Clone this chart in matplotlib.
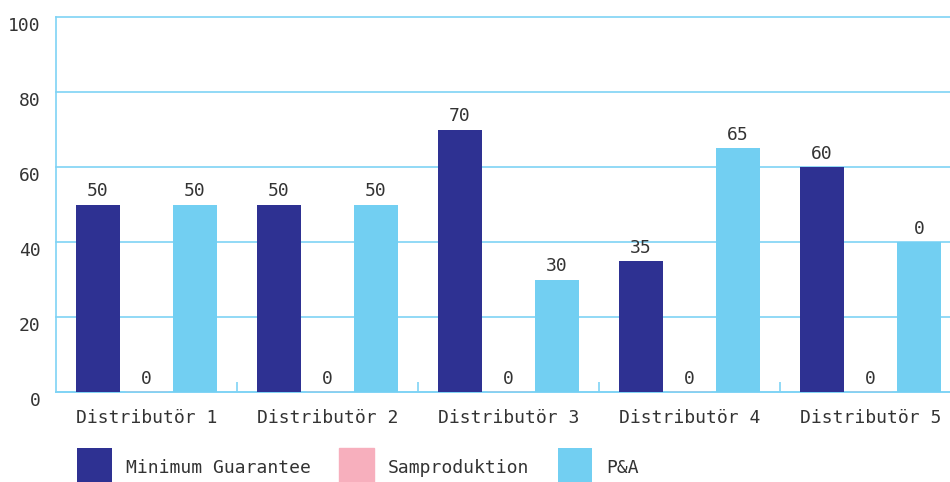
import matplotlib
matplotlib.use("Agg")
import matplotlib.pyplot as plt
import numpy as np

categories = ["Distributör 1", "Distributör 2", "Distributör 3", "Distributör 4", "Distributör 5"]
series_names = ["Minimum Guarantee", "Samproduktion", "P&A"]
mg_values = [50, 50, 70, 35, 60]
samp_values = [0, 0, 0, 0, 0]
pa_values = [50, 50, 30, 65, 40]
mg_labels = ["50", "50", "70", "35", "60"]
samp_labels = ["0", "0", "0", "0", "0"]
pa_labels = ["50", "50", "30", "65", "0"]
y_ticks = [0, 20, 40, 60, 80, 100]

colors = ["#2e3192", "#f7afbd", "#72cff2"]
grid_color = "#7fd3f5"
text_color = "#333333"

plt.rcParams["font.family"] = ["DejaVu Sans Mono"]
plt.rcParams["font.size"] = 13

fig = plt.figure(figsize=(9.5, 4.82), dpi=100)
ax = fig.add_axes([56 / 950, 1 - 392 / 482, 1 - 56 / 950, (392 - 17) / 482])

x = np.arange(len(categories))
offset = 0.268
width = 0.243
series = [mg_values, samp_values, pa_values]
labels = [mg_labels, samp_labels, pa_labels]
for i, (vals, labs) in enumerate(zip(series, labels)):
    bars = ax.bar(x + (i - 1) * offset, vals, width, color=colors[i],
                  label=series_names[i], zorder=3,
                  edgecolor=colors[i] if i == 1 else "none",
                  linewidth=1.0 if i == 1 else 0)
    ax.bar_label(bars, labels=labs, padding=3, color=text_color, fontsize=13)

ax.set_ylim(0, 100)
ax.set_xlim(-0.5, -0.5 + (950 - 56) / 181)
ax.set_yticks(y_ticks)
ax.tick_params(axis="y", length=0, pad=11, labelcolor=text_color)
for lab in ax.get_yticklabels():
    lab.set_verticalalignment("top")
ax.set_xticks(x)
ax.set_xticklabels(categories)
ax.tick_params(axis="x", which="major", length=0, pad=12, labelcolor=text_color)
ax.set_xticks(x[:-1] + 0.5, minor=True)
ax.tick_params(axis="x", which="minor", direction="in", length=7,
               color=grid_color, width=1.2)

ax.grid(axis="y", color=grid_color, linewidth=1.2, zorder=0)
for gl in ax.get_ygridlines():
    gl.set_clip_on(False)
for side in ["top", "right"]:
    ax.spines[side].set_visible(False)
for side in ["left", "bottom"]:
    ax.spines[side].set_color(grid_color)
    ax.spines[side].set_linewidth(1.2)

fig.legend(loc="upper left", bbox_to_anchor=(70 / 950, 1 - 441 / 482), ncol=3,
           frameon=False, handlelength=1.9, handleheight=3.0,
           handletextpad=0.78, columnspacing=1.6, borderaxespad=0,
           labelcolor=text_color, fontsize=13)

fig.savefig("out.png", dpi=100)
